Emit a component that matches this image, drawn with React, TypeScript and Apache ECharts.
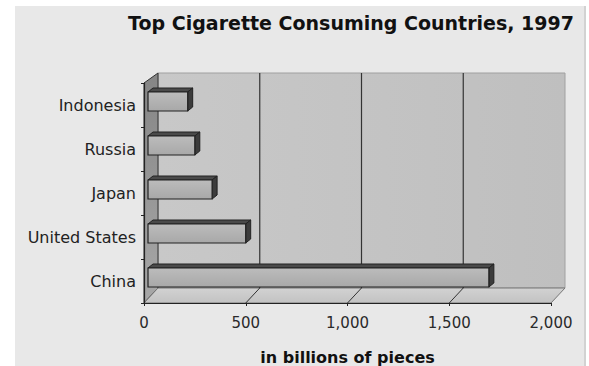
import { useEffect, useRef } from "react";
import * as echarts from "echarts";

// Annual consumption, billions of cigarettes (bottom to top on the category axis)
const countries = ["China", "United States", "Japan", "Russia", "Indonesia"];
const consumption = [1675, 480, 315, 230, 195];
const xTicks = [0, 500, 1000, 1500, 2000];
const chartTitle = "Top Cigarette Consuming Countries, 1997";
const unitLabel = "in billions of pieces";

const FONT = '"DejaVu Sans", "Liberation Sans", sans-serif';

// Pseudo-3D frame: the back wall sits up and to the right of the front plane
const DEPTH_X = 14;
const DEPTH_TOP = -10;
const DEPTH_BOTTOM = -15;

// Bar prism geometry relative to its category band centre
const BAR_SHIFT = 4;
const BAR_UP = 13;
const BAR_DOWN = 6;
const BAR_DX = 5;
const BAR_DY = -4;

const linear = (x2: number, y2: number, a: string, b: string) => ({
  type: "linear",
  x: 0,
  y: 0,
  x2,
  y2,
  colorStops: [
    { offset: 0, color: a },
    { offset: 1, color: b },
  ],
});

function renderFrame(params: any, api: any) {
  const cs = params.coordSys;
  const gx = cs.x;
  const gy = cs.y;
  const gw = cs.width;
  const gh = cs.height;
  const backTop = gy + DEPTH_TOP;
  const backBottom = gy + gh + DEPTH_BOTTOM;
  const children: any[] = [
    {
      type: "rect",
      shape: { x: gx + DEPTH_X, y: backTop, width: gw, height: backBottom - backTop },
      style: { fill: linear(1, 0, "#c8c8c8", "#bfbfbf"), stroke: "#a0a0a0", lineWidth: 1 },
    },
    {
      type: "polygon",
      shape: {
        points: [
          [gx, gy],
          [gx + DEPTH_X, backTop],
          [gx + DEPTH_X, backBottom],
          [gx, gy + gh],
        ],
      },
      style: { fill: linear(0, 1, "#858585", "#a8a8a8"), stroke: "#333", lineWidth: 1 },
    },
    {
      type: "polygon",
      shape: {
        points: [
          [gx, gy + gh],
          [gx + DEPTH_X, backBottom],
          [gx + gw + DEPTH_X, backBottom],
          [gx + gw, gy + gh],
        ],
      },
      style: { fill: linear(0, 1, "#d2d2d2", "#c2c2c2"), stroke: "#777", lineWidth: 1 },
    },
  ];
  xTicks.slice(1, -1).forEach((v) => {
    const x = api.coord([v, 0])[0];
    children.push({
      type: "line",
      shape: { x1: x + DEPTH_X, y1: backTop, x2: x + DEPTH_X, y2: backBottom },
      style: { stroke: "#333", lineWidth: 1.2 },
    });
    children.push({
      type: "line",
      shape: { x1: x, y1: gy + gh, x2: x + DEPTH_X, y2: backBottom },
      style: { stroke: "#333", lineWidth: 1 },
    });
  });
  return { type: "group", children };
}

function renderBar(_params: any, api: any) {
  const val = api.value(0);
  const idx = api.value(1);
  const [x0, cy] = api.coord([0, idx]);
  const x1 = api.coord([val, idx])[0];
  const left = x0 + BAR_SHIFT;
  const right = x1 + BAR_SHIFT;
  const top = cy - BAR_UP;
  const bottom = cy + BAR_DOWN;
  return {
    type: "group",
    children: [
      {
        type: "polygon",
        shape: {
          points: [
            [left, top],
            [left + BAR_DX, top + BAR_DY],
            [right + BAR_DX, top + BAR_DY],
            [right, top],
          ],
        },
        style: { fill: "#4a4a4a", stroke: "#222", lineWidth: 1 },
      },
      {
        type: "polygon",
        shape: {
          points: [
            [right, top],
            [right + BAR_DX, top + BAR_DY],
            [right + BAR_DX, bottom + BAR_DY],
            [right, bottom],
          ],
        },
        style: { fill: "#3c3c3c", stroke: "#222", lineWidth: 1 },
      },
      {
        type: "rect",
        shape: { x: left, y: top, width: right - left, height: bottom - top },
        style: { fill: linear(0, 1, "#bcbcbc", "#a8a8a8"), stroke: "#222", lineWidth: 1.2 },
      },
    ],
  };
}

export default function App() {
  const ref = useRef<HTMLDivElement>(null);

  useEffect(() => {
    if (!ref.current) return;
    const chart = echarts.init(ref.current, null, { renderer: "svg" });
    chart.setOption({
      animation: false,
      title: {
        text: chartTitle,
        left: 346,
        top: 8,
        textAlign: "center",
        textStyle: { fontFamily: FONT, fontSize: 19, fontWeight: "bold", color: "#111" },
      },
      grid: {
        left: 144,
        right: 38,
        top: 83,
        bottom: 63,
        containLabel: false,
        outerBoundsMode: "none",
      },
      xAxis: {
        type: "value",
        min: 0,
        max: 2000,
        interval: 500,
        z: 10,
        splitLine: { show: false },
        axisLine: { show: true, lineStyle: { color: "#222", width: 1 } },
        axisTick: { show: true, length: 3, lineStyle: { color: "#222" } },
        axisLabel: {
          margin: 12,
          fontFamily: FONT,
          fontSize: 15,
          color: "#2a2a2a",
          formatter: (v: number) => v.toLocaleString("en-US"),
        },
        name: unitLabel,
        nameLocation: "middle",
        nameGap: 46,
        nameTextStyle: { fontFamily: FONT, fontSize: 16, fontWeight: "bold", color: "#111" },
      },
      yAxis: {
        type: "category",
        data: countries,
        z: 10,
        axisLine: { show: true, lineStyle: { color: "#222", width: 1.2 } },
        axisTick: { show: true, length: 3, lineStyle: { color: "#222" } },
        splitLine: { show: false },
        axisLabel: { margin: 8, fontFamily: FONT, fontSize: 16, color: "#222" },
      },
      series: [
        {
          type: "custom",
          z: 1,
          silent: true,
          renderItem: renderFrame,
          data: [[0, 0]],
          encode: { x: 0, y: 1 },
        },
        {
          type: "custom",
          z: 3,
          renderItem: renderBar,
          data: consumption.map((v, i) => [v, i]),
          encode: { x: 0, y: 1 },
        },
      ],
    });
    return () => chart.dispose();
  }, []);

  return (
    <div style={{ position: "fixed", left: 0, top: 0, width: 589, height: 366, background: "#fff" }}>
      <div
        style={{
          position: "absolute",
          left: 15,
          top: 6,
          width: 569,
          height: 360,
          background: "#e8e8e8",
          borderRight: "2px solid #d2d2d2",
        }}
      />
      <div ref={ref} style={{ position: "absolute", left: 0, top: 0, width: 589, height: 366 }} />
    </div>
  );
}
